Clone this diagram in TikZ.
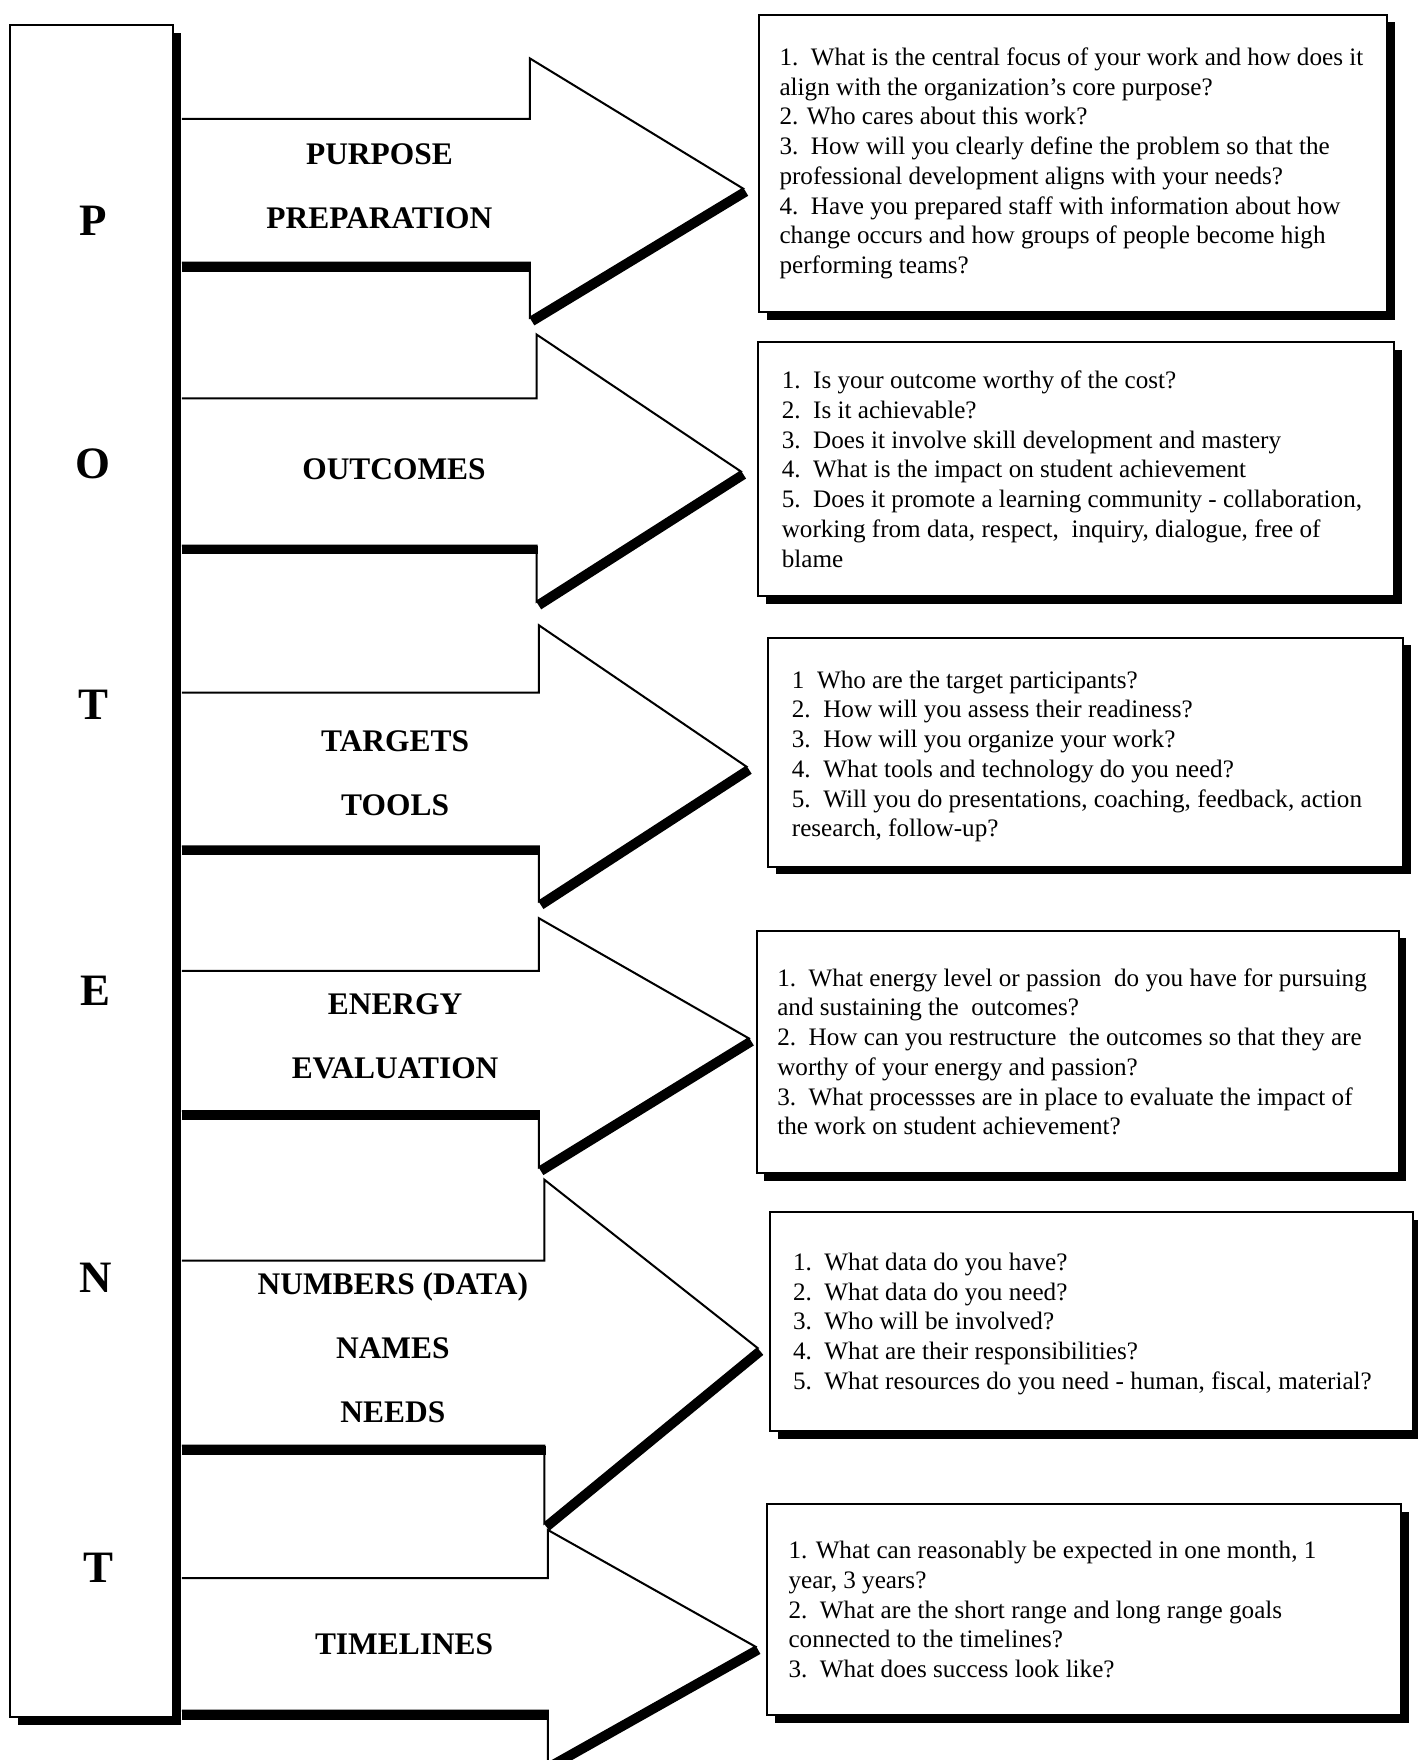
\documentclass[tikz,border=0pt]{standalone}
\usepackage{fontspec}
\setmainfont{Liberation Serif}
\usetikzlibrary{shadows}
\newcommand\Parrow[7]{%
  % #1 shaft top, #2 shaft bottom, #3 head x, #4 head top, #5 head bottom, #6 tip x, #7 tip y
  \filldraw[outl,fill=white] (162,#1) -- (#3,#1) -- (#3,#4) -- (#6,#7) -- (#3,#5) -- (#3,#2) -- (162,#2);
  \draw[shad] (162,{#2+4}) -- ({#3+1},{#2+4});
  \draw[shad] ({#3+2},{#5+3.5}) -- ({#6+2.5},{#7+3});
}
\begin{document}
\begin{tikzpicture}[x=0.5pt,y=-0.5pt,
  outl/.style={line width=0.9pt,line join=miter},
  shad/.style={line width=4pt},
  qbox/.style={draw,line width=0.9pt,fill=white,inner sep=0pt,
    general shadow={fill=black,shadow xshift=3.5pt,shadow yshift=-3.5pt}},
  qtext/.style={anchor=west,inner sep=0pt,align=left,font=\fontsize{11.2}{13.25}\selectfont},
  head/.style={align=center,inner sep=0pt,font=\bfseries\fontsize{14}{28.5}\selectfont},
  letter/.style={inner sep=0pt,font=\bfseries\fontsize{20}{24}\selectfont}]
\useasboundingbox (0,0) rectangle (1263,1568);
\fill[white] (0,0) rectangle (1263,1568);
\begin{scope}
\clip (0,0) rectangle (1263,1568);
% left column
\node[qbox,minimum width=72.5pt,minimum height=754pt] (col) at (81.5,776) {};
% arrows
\Parrow{106}{234}{472}{52}{283}{662}{168}
\Parrow{355}{486}{478}{298}{536}{660}{420}
\Parrow{617}{754}{480}{557}{803}{665}{683}
\Parrow{865}{990}{480}{818}{1040}{667}{925}
\Parrow{1123}{1288}{485}{1051}{1357}{675}{1201}
\Parrow{1406}{1524}{488}{1363}{1571}{673}{1467}
\end{scope}
% letters
\node[letter] (lp) at (83,197) {P};
\node[letter] (lo) at (83,413) {O};
\node[letter] (lt) at (83,628) {T};
\node[letter] (le) at (85,883) {E};
\node[letter] (ln) at (85,1138) {N};
\node[letter] (lt2) at (88,1397) {T};
% headings
\node[head] (h1) at (338,166) {PURPOSE\\PREPARATION};
\node[head] (h2) at (351,418) {OUTCOMES};
\node[head] (h3) at (352,689) {TARGETS\\TOOLS};
\node[head] (h4) at (352,923.5) {ENERGY\\EVALUATION};
\node[head] (h5) at (350,1201) {NUMBERS (DATA)\\NAMES\\NEEDS};
\node[head] (h6) at (360,1465) {TIMELINES};
% question boxes
\node[qbox,minimum width=280pt,minimum height=132.5pt] (b1) at (956,145.5) {};
\node[qtext] (t1) at ([xshift=9.5pt]b1.west) {1.~~What is the central focus of your work and how does it\\
align with the organization's core purpose?\\
2. Who cares about this work?\\
3.~~How will you clearly define the problem so that the\\
professional development aligns with your needs?\\
4.~~Have you prepared staff with information about how\\
change occurs and how groups of people become high\\
performing teams?};
\node[qbox,minimum width=283.5pt,minimum height=113pt] (b2) at (958.5,418) {};
\node[qtext] (t2) at ([xshift=11pt]b2.west) {1.~~Is your outcome worthy of the cost?\\
2.~~Is it achievable?\\
3.~~Does it involve skill development and mastery\\
4.~~What is the impact on student achievement\\
5.~~Does it promote a learning community - collaboration,\\
working from data, respect,~~inquiry, dialogue, free of\\
blame};
\node[qbox,minimum width=283pt,minimum height=102pt] (b3) at (967,670) {};
\node[qtext] (t3) at ([xshift=11pt,yshift=-2pt]b3.west) {1~~Who are the target participants?\\
2.~~How will you assess their readiness?\\
3.~~How will you organize your work?\\
4.~~What tools and technology do you need?\\
5.~~Will you do presentations, coaching, feedback, action\\
research, follow-up?};
\node[qbox,minimum width=286pt,minimum height=108pt] (b4) at (960,937) {};
\node[qtext] (t4) at ([xshift=9.5pt]b4.west) {1.~~What energy level or passion~~do you have for pursuing\\
and sustaining the~~outcomes?\\
2.~~How can you restructure~~the outcomes so that they are\\
worthy of your energy and passion?\\
3.~~What processses are in place to evaluate the impact of\\
the work on student achievement?};
\node[qbox,minimum width=286.5pt,minimum height=97.5pt] (b5) at (972.5,1177.5) {};
\node[qtext] (t5) at ([xshift=10.5pt,yshift=-1pt]b5.west) {1.~~What data do you have?\\
2.~~What data do you need?\\
3.~~Who will be involved?\\
4.~~What are their responsibilities?\\
5.~~What resources do you need - human, fiscal, material?};
\node[qbox,minimum width=282.5pt,minimum height=94pt] (b6) at (965.5,1434) {};
\node[qtext] (t6) at ([xshift=10pt]b6.west) {1. What can reasonably be expected in one month, 1\\
year, 3 years?\\
2.~~What are the short range and long range goals\\
connected to the timelines?\\
3.~~What does success look like?};
\end{tikzpicture}
\end{document}
